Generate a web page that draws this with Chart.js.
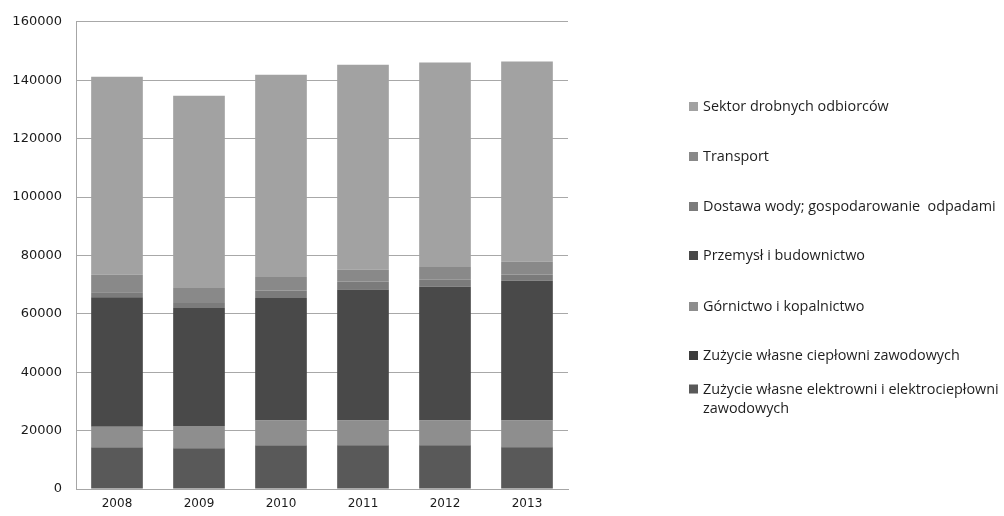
<!DOCTYPE html>
<html>
<head>
<meta charset="utf-8">
<script src="https://cdn.jsdelivr.net/npm/chart.js@4/dist/chart.umd.min.js"></script>
<style>
  html, body { margin: 0; padding: 0; background: #fff; }
  #wrap { width: 1004px; height: 516px; position: relative; }
</style>
</head>
<body>
<div id="wrap"><canvas id="zuzycie"></canvas></div>
<script>
const lata = ['2008', '2009', '2010', '2011', '2012', '2013'];

const elektrownie = [14100, 13900, 14800, 14900, 14900, 14300];
const cieplownie  = [200, 200, 200, 200, 200, 200];
const gornictwo   = [7000, 7500, 8500, 8400, 8400, 9000];
const przemysl    = [44400, 40400, 41900, 44800, 45800, 47800];
const dostawa     = [1700, 1700, 2600, 2800, 2400, 2200];
const transport   = [6000, 5100, 4600, 4000, 4300, 4300];
const sektor      = [67800, 65900, 69300, 70200, 70100, 68600];

const osY = [0, 20000, 40000, 60000, 80000, 100000, 120000, 140000, 160000];

// legend drawn by hand, top item = last dataset
const legendaBoczna = {
  id: 'legendaBoczna',
  afterDraw(chart) {
    const ctx = chart.ctx;
    const ys = [107, 157, 207, 256, 307, 356, 399];
    ctx.save();
    ctx.font = '14.4px "Open Sans"';
    ctx.textBaseline = 'middle';
    const ds = chart.data.datasets.slice().reverse();
    ds.forEach((d, i) => {
      const lines = Array.isArray(d.label) ? d.label : [d.label];
      const y0 = ys[i] - (lines.length - 1) * 9.5;
      ctx.fillStyle = d.backgroundColor;
      ctx.fillRect(689, y0 - 5, 9, 9);
      ctx.fillStyle = '#1e1e1e';
      lines.forEach((t, k) => ctx.fillText(t, 703, y0 + k * 19));
    });
    ctx.restore();
  }
};

new Chart(document.getElementById('zuzycie'), {
  type: 'bar',
  data: {
    labels: lata,
    datasets: [
      { label: ['Zużycie własne elektrowni i elektrociepłowni', 'zawodowych'], data: elektrownie, backgroundColor: '#595959' },
      { label: 'Zużycie własne ciepłowni zawodowych', data: cieplownie, backgroundColor: '#3d3d3d' },
      { label: 'Górnictwo i kopalnictwo', data: gornictwo, backgroundColor: '#8e8e8e' },
      { label: 'Przemysł i budownictwo', data: przemysl, backgroundColor: '#494949' },
      { label: 'Dostawa wody; gospodarowanie  odpadami', data: dostawa, backgroundColor: '#7b7b7b' },
      { label: 'Transport', data: transport, backgroundColor: '#898989' },
      { label: 'Sektor drobnych odbiorców', data: sektor, backgroundColor: '#a2a2a2' }
    ]
  },
  options: {
    responsive: true,
    maintainAspectRatio: false,
    animation: false,
    categoryPercentage: 1,
    barPercentage: 0.63,
    layout: { padding: { top: 21, right: 436, left: 0, bottom: 0 } },
    plugins: { legend: { display: false }, tooltip: { enabled: false } },
    scales: {
      x: {
        stacked: true,
        grid: { display: false, drawTicks: false },
        border: { color: '#a6a6a6' },
        ticks: { color: '#1a1a1a', font: { family: 'DejaVu Sans', size: 12 }, padding: 8 },
        afterFit: s => { s.height = 27; }
      },
      y: {
        stacked: true,
        min: 0,
        max: 160000,
        afterBuildTicks: s => { s.ticks = osY.map(v => ({ value: v })); },
        grid: { color: '#a8a8a8', drawTicks: false },
        border: { color: '#a6a6a6' },
        ticks: {
          color: '#1a1a1a',
          font: { family: 'DejaVu Sans', size: 13 },
          padding: 14,
          callback: v => String(v)
        },
        afterFit: s => { s.width = 76; }
      }
    }
  },
  plugins: [legendaBoczna]
});
</script>
</body>
</html>
